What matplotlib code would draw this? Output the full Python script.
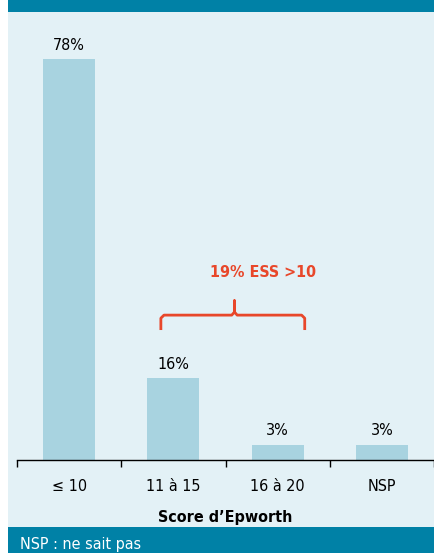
import matplotlib
matplotlib.use("Agg")
import matplotlib.pyplot as plt
from matplotlib.patches import Rectangle

plt.rcParams['font.family'] = ['DejaVu Sans']
plt.rcParams['font.stretch'] = 'condensed'

categories = ['≤ 10', '11 à 15', '16 à 20', 'NSP']
values = [78, 16, 3, 3]
value_labels = ['78%', '16%', '3%', '3%']
annotation = '19% ESS >10'
xlabel = 'Score d\u2019Epworth'
footnote = 'NSP : ne sait pas'

teal = '#0081a6'
bg = '#e3f1f6'
bar_color = '#a8d3e0'
red = '#e8472a'

fig = plt.figure(figsize=(4.34, 5.53), dpi=100)
fig.patch.set_facecolor('white')

# background panel, header and footer bands
fig.patches.append(Rectangle((8 / 434, 0), 1, 1, transform=fig.transFigure,
                             facecolor=bg, edgecolor='none', zorder=-3))
fig.patches.append(Rectangle((8 / 434, 541 / 553), 1, 12 / 553, transform=fig.transFigure,
                             facecolor=teal, edgecolor='none', zorder=5))
fig.patches.append(Rectangle((8 / 434, 0), 1, 26 / 553, transform=fig.transFigure,
                             facecolor=teal, edgecolor='none', zorder=5))
fig.text(20 / 434, 1.5 / 553, footnote, color='white', fontsize=11.5, va='bottom',
         ha='left', zorder=6)

ax = fig.add_axes([17 / 434, 93 / 553, 417 / 434, 448 / 553])
ax.set_facecolor('none')
x = list(range(len(categories)))
ax.bar(x, values, width=0.5, color=bar_color)
for xi, v, lab in zip(x, values, value_labels):
    ax.text(xi, v + 1.2, lab, ha='center', va='bottom', fontsize=11.5)

ax.set_xlim(-0.5, 3.47)
ax.set_ylim(0, 87.2)
ax.set_xticks(x)
ax.set_xticklabels(categories, fontsize=11.5)
ax.set_xticks([-0.5, 0.5, 1.5, 2.5, 3.5], minor=True)
ax.tick_params(axis='x', which='major', length=0, pad=14)
ax.tick_params(axis='x', which='minor', length=5, width=1, direction='out')
ax.set_yticks([])
for s in ['top', 'left', 'right']:
    ax.spines[s].set_visible(False)
ax.spines['bottom'].set_linewidth(1)
ax.set_xlabel(xlabel, fontsize=11.5, fontweight='bold', labelpad=11)

# bracket over 11-15 and 16-20
bx = [0.88, 0.88, 0.91, 1.56, 1.586, 1.586, 1.586, 1.612, 2.23, 2.26, 2.26]
by = [25.3, 27.6, 28.2, 28.2, 28.8, 31.0, 28.8, 28.2, 28.2, 27.6, 25.3]
ax.plot(bx, by, color=red, lw=2, solid_joinstyle='round', solid_capstyle='butt')
ax.text(1.86, 35.0, annotation, color=red, fontsize=11.5, fontweight='bold',
        ha='center', va='bottom')

fig.savefig('out.png', dpi=100)
